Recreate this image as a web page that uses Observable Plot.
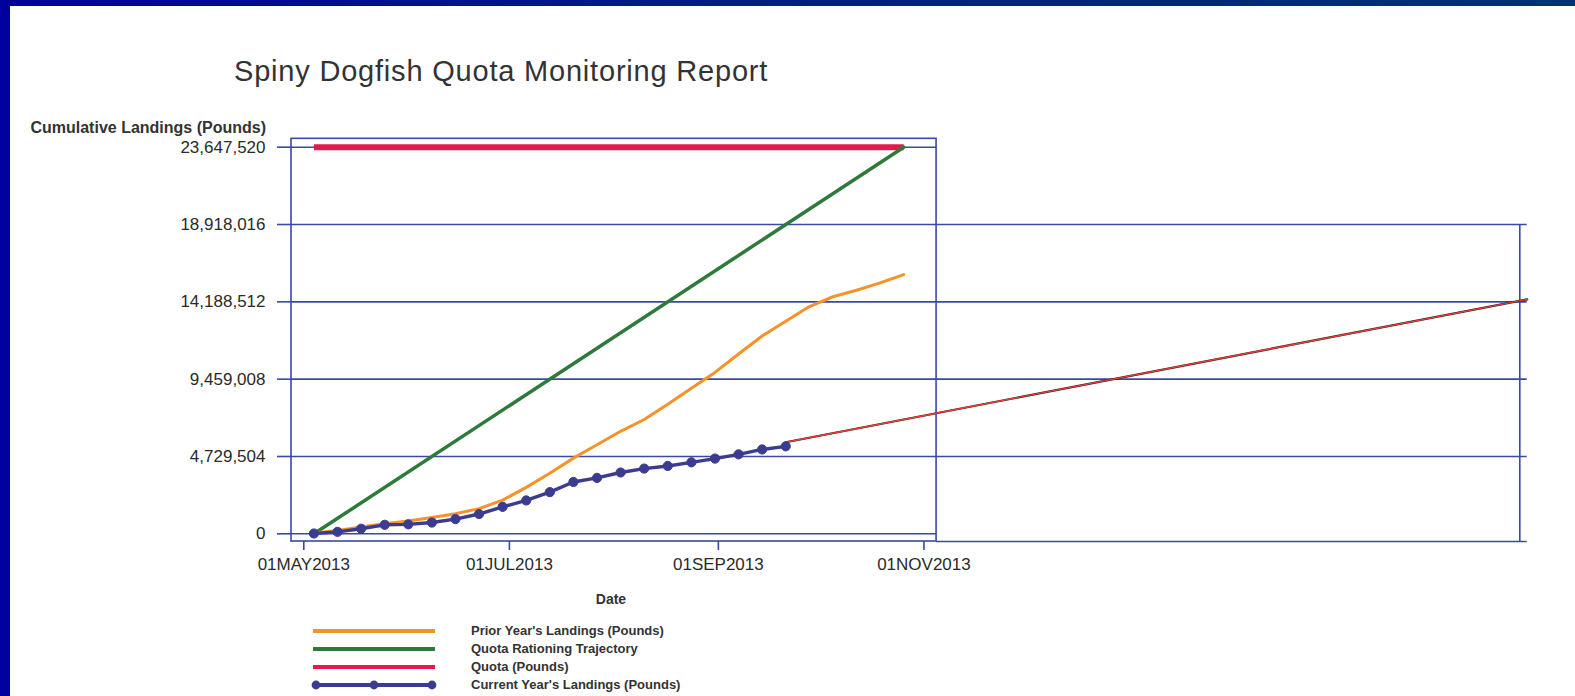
<!DOCTYPE html>
<html>
<head>
<meta charset="utf-8">
<script src="https://cdn.jsdelivr.net/npm/d3@7"></script>
<script src="https://cdn.jsdelivr.net/npm/@observablehq/plot@0.6"></script>
<style>
  html, body { margin: 0; padding: 0; background: #fff; }
  body { width: 1575px; height: 696px; overflow: hidden; position: relative;
         font-family: "Liberation Sans", Arial, sans-serif; }
  #topbar { position: absolute; left: 0; top: 0; width: 1575px; height: 6px;
            background: linear-gradient(to right, #00009e 0%, #001c86 45%, #00336c 100%); z-index: 5; }
  #leftbar { position: absolute; left: 0; top: 0; width: 10px; height: 696px; background: #00009c; z-index: 5; }
  #title { position: absolute; left: 234px; top: 57px; font-size: 29px; line-height: 29px;
           color: #333; letter-spacing: 0.8px; white-space: nowrap; }
  #ylabel { position: absolute; left: 0; width: 266px; top: 120px; text-align: right;
            font-size: 16px; line-height: 16px; font-weight: bold; color: #333; white-space: nowrap; }
  #chart { position: absolute; left: 0; top: 100px; }
  #xlabel { position: absolute; left: 561px; width: 100px; top: 592px; text-align: center;
            font-size: 14px; line-height: 14px; font-weight: bold; color: #333; }
  .lg { position: absolute; left: 0; height: 18px; width: 900px; }
  .lg svg { position: absolute; left: 311px; top: 0; }
  .lg span { position: absolute; left: 471px; top: 0; font-size: 13px; line-height: 18px;
             font-weight: bold; color: #333; white-space: nowrap; }
</style>
</head>
<body>
<div id="topbar"></div>
<div id="leftbar"></div>
<div id="title">Spiny Dogfish Quota Monitoring Report</div>
<div id="ylabel">Cumulative Landings (Pounds)</div>
<div id="chart"></div>
<div id="xlabel">Date</div>
<div id="legend"></div>
<script>
// ---------- data ----------
const yTicks = [0, 4729504, 9459008, 14188512, 18918016, 23647520];
const xTickDates = ["2013-05-01", "2013-07-01", "2013-09-01", "2013-11-01"];

// Current year's landings (weekly, pounds)
const currentDates = ["2013-05-04","2013-05-11","2013-05-18","2013-05-25","2013-06-01","2013-06-08",
  "2013-06-15","2013-06-22","2013-06-29","2013-07-06","2013-07-13","2013-07-20","2013-07-27",
  "2013-08-03","2013-08-10","2013-08-17","2013-08-24","2013-08-31","2013-09-07","2013-09-14","2013-09-21"];
const currentLandings = [20000, 120000, 310000, 550000, 580000, 690000, 900000, 1210000, 1650000,
  2040000, 2550000, 3170000, 3420000, 3750000, 3990000, 4150000, 4370000, 4600000, 4860000, 5160000, 5350000];

// Prior year's landings (weekly, pounds)
const priorDates = ["2013-05-04","2013-05-11","2013-05-18","2013-05-25","2013-06-01","2013-06-08",
  "2013-06-15","2013-06-22","2013-06-29","2013-07-06","2013-07-13","2013-07-20","2013-07-27",
  "2013-08-03","2013-08-10","2013-08-17","2013-08-24","2013-08-31","2013-09-07","2013-09-14",
  "2013-09-21","2013-09-28","2013-10-05","2013-10-12","2013-10-19","2013-10-26"];
const priorLandings = [50000, 200000, 420000, 620000, 780000, 1000000, 1230000, 1540000, 2060000,
  2840000, 3700000, 4630000, 5450000, 6270000, 6990000, 7920000, 8900000, 9870000, 11000000,
  12100000, 13000000, 13900000, 14500000, 14900000, 15350000, 15850000];

// Quota and rationing trajectory
const quotaDates = ["2013-05-04", "2013-10-26"];
const quotaValues = [23647520, 23647520];
const trajectoryValues = [0, 23647520];

// Projection of current landings through the end of the fishing year
const projectionDates = ["2013-09-21", "2014-04-29"];
const projectionValues = [5600000, 14340000];

// Panel extents (scale / frame structure)
const xStart = new Date(Date.UTC(2013, 3, 27, 8, 24));
const innerEnd = new Date(Date.UTC(2013, 10, 4, 18, 0));
const xEnd = new Date(Date.UTC(2014, 3, 26, 19, 12));
const extEnd = new Date(Date.UTC(2014, 3, 29));
const yMin = -470000;
const yMax = 24160000;

const legendItems = ["Prior Year's Landings (Pounds)", "Quota Rationing Trajectory", "Quota (Pounds)", "Current Year's Landings (Pounds)"];

// ---------- colours ----------
const gridColor = "#3a48a8";
const cOrange = "#f5922a";
const cGreen = "#2e7a3c";
const cRed = "#e21b4f";
const cNavy = "#3b3c90";

// ---------- tables ----------
const toRows = (dates, vals) => dates.map((d, i) => ({date: new Date(d), value: vals[i]}));
const current = toRows(currentDates, currentLandings);
const prior = toRows(priorDates, priorLandings);
const quota = toRows(quotaDates, quotaValues);
const trajectory = toRows(quotaDates, trajectoryValues);
const projection = toRows(projectionDates, projectionValues);
const xTicks = xTickDates.map(s => new Date(s));
const fmtDate = d => d3.utcFormat("%d%b%Y")(d).toUpperCase();

const chart = Plot.plot({
  width: 1575,
  height: 480,
  marginLeft: 291,
  marginRight: 55.7,
  marginTop: 38.3,
  marginBottom: 39,
  style: {fontFamily: "Liberation Sans, Arial, sans-serif", fontSize: "17px", background: "transparent", overflow: "visible"},
  x: {type: "utc", domain: [xStart, xEnd], axis: null},
  y: {domain: [yMin, yMax], axis: null},
  marks: [
    // inner panel gridlines
    Plot.ruleY(yTicks, {x1: () => xStart, x2: () => innerEnd, stroke: gridColor, strokeWidth: 1.6}),
    // extended panel gridlines
    Plot.ruleY(yTicks.slice(1, 5), {x1: () => innerEnd, x2: () => extEnd, stroke: gridColor, strokeWidth: 1.6}),
    Plot.ruleY([yMin], {x1: () => innerEnd, x2: () => extEnd, stroke: gridColor, strokeWidth: 1.6}),
    Plot.ruleX([xEnd], {y1: () => yMin, y2: () => yTicks[4], stroke: gridColor, strokeWidth: 1.6}),
    // inner frame
    Plot.rect([0], {x1: () => xStart, x2: () => innerEnd, y1: () => yMin, y2: () => yMax,
      fill: "none", stroke: gridColor, strokeWidth: 1.6}),
    // axes
    Plot.axisY({ticks: yTicks, tickFormat: d3.format(","), tickSize: 14, tickPadding: 12,
      label: null, stroke: gridColor, strokeWidth: 1.6, fill: "#2a2a2a", fontSize: 17}),
    Plot.axisX({ticks: xTicks, tickFormat: fmtDate, tickSize: 9, tickPadding: 7.5,
      label: null, stroke: gridColor, strokeWidth: 1.6, fill: "#2a2a2a", fontSize: 17}),
    // series
    Plot.line(quota, {x: "date", y: "value", stroke: cRed, strokeWidth: 6, strokeLinecap: "butt"}),
    Plot.line(trajectory, {x: "date", y: "value", stroke: cGreen, strokeWidth: 3.5}),
    Plot.line(prior, {x: "date", y: "value", stroke: cOrange, strokeWidth: 3, curve: "linear"}),
    Plot.line(projection, {x: "date", y: "value", stroke: "#222", strokeWidth: 2.2}),
    Plot.line(projection, {x: "date", y: "value", stroke: "#ee3b3b", strokeWidth: 1.4}),
    Plot.line(current, {x: "date", y: "value", stroke: cNavy, strokeWidth: 3.4}),
    Plot.dot(current, {x: "date", y: "value", r: 4.6, fill: cNavy, stroke: cNavy, strokeWidth: 1})
  ]
});
document.getElementById("chart").appendChild(chart);

// ---------- legend ----------
const legendColors = [cOrange, cGreen, cRed, cNavy];
const legend = document.getElementById("legend");
legendItems.forEach((label, i) => {
  const row = document.createElement("div");
  row.className = "lg";
  row.style.top = (622 + i * 18.1) + "px";
  const c = legendColors[i];
  let svg = `<svg width="126" height="18"><line x1="2" x2="124" y1="9" y2="9" stroke="${c}" stroke-width="4"/>`;
  if (i === 3) {
    svg += [5, 63, 121].map(x => `<circle cx="${x}" cy="9" r="4.4" fill="${c}"/>`).join("");
  }
  svg += `</svg>`;
  row.innerHTML = svg + `<span>${label}</span>`;
  legend.appendChild(row);
});
</script>
</body>
</html>
